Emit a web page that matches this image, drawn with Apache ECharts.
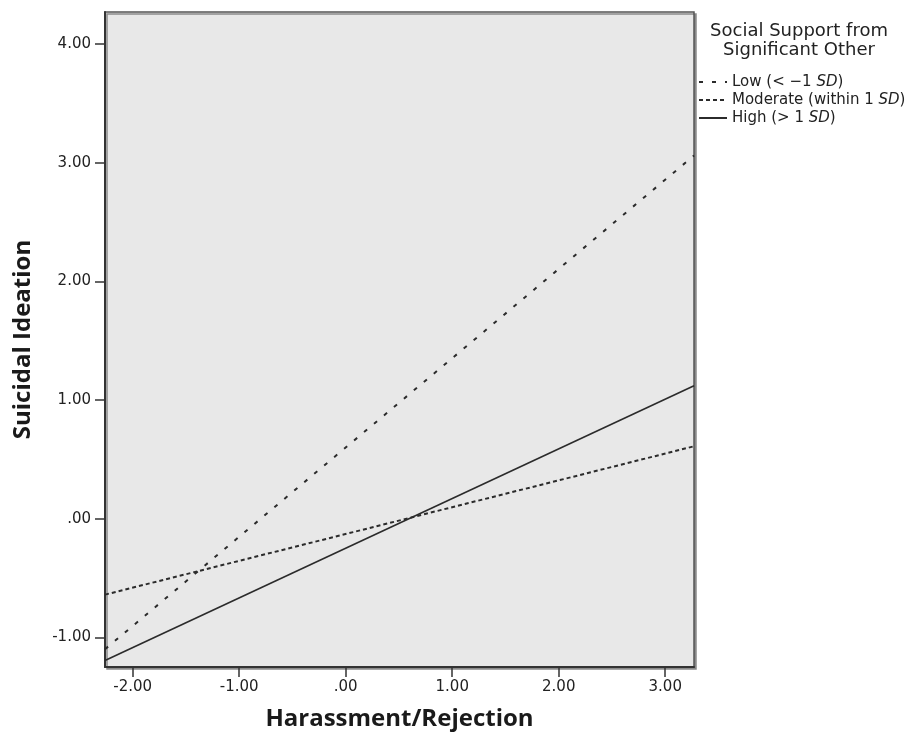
<!DOCTYPE html>
<html>
<head>
<meta charset="utf-8">
<title>Suicidal Ideation by Harassment/Rejection</title>
<script src="https://cdn.jsdelivr.net/npm/echarts@6/dist/echarts.min.js"></script>
<style>
  html, body { margin: 0; padding: 0; background: #fff; }
  #chart { width: 909px; height: 736px; }
</style>
</head>
<body>
<div id="chart"></div>
<script>
// x range of the fitted lines (edges of the plot)
const xEnds = [-2.26, 3.27];

// predicted suicidal ideation at each end
const lowValues = [-1.10, 3.06];
const moderateValues = [-0.64, 0.61];
const highValues = [-1.195, 1.12];

const seriesNames = ['Low', 'Moderate', 'High'];
const legendLabels = {
  Low: 'Low (< \u22121 {i|SD})',
  Moderate: 'Moderate (within 1 {i|SD})',
  High: 'High (> 1 {i|SD})'
};

const xTickValues = [-2, -1, 0, 1, 2, 3];
const xTickLabels = ['-2.00', '-1.00', '.00', '1.00', '2.00', '3.00'];
const yTickValues = [-1, 0, 1, 2, 3, 4];
const yTickLabels = ['-1.00', '.00', '1.00', '2.00', '3.00', '4.00'];

const toPoints = (values) => xEnds.map((x, i) => [x, values[i]]);

const chart = echarts.init(document.getElementById('chart'));

const lineColor = '#2b2b2b';
const labelFont = 'DejaVu Sans';
const titleFont = 'Open Sans';

const axisCommon = {
  type: 'value',
  nameLocation: 'middle',
  nameTextStyle: {
    fontFamily: titleFont,
    fontWeight: 'bold',
    fontSize: 24,
    color: '#1a1a1a'
  },
  axisLine: { show: true, onZero: false, lineStyle: { color: '#333', width: 2 } },
  axisTick: { show: true, inside: false, length: 10, lineStyle: { color: '#333', width: 1.5 } },
  splitLine: { show: false }
};

const option = {
  animation: false,
  backgroundColor: '#fff',
  color: [lineColor, lineColor, lineColor],
  title: {
    text: 'Social Support from\nSignificant Other',
    left: 799,
    top: 22,
    padding: 0,
    textAlign: 'center',
    textStyle: {
      fontFamily: labelFont,
      fontWeight: 'normal',
      fontSize: 18,
      lineHeight: 19,
      color: '#222'
    }
  },
  legend: {
    orient: 'vertical',
    left: 698,
    top: 73,
    padding: 0,
    itemWidth: 28,
    itemHeight: 10,
    itemGap: 0,
    data: seriesNames,
    itemStyle: { opacity: 0 },
    formatter: (name) => legendLabels[name],
    textStyle: {
      fontFamily: labelFont,
      fontSize: 15,
      lineHeight: 18,
      color: '#222',
      rich: {
        i: { fontFamily: labelFont, fontSize: 15, lineHeight: 18, fontStyle: 'italic', color: '#222' }
      }
    }
  },
  grid: {
    left: 105,
    right: 215,
    top: 12,
    bottom: 68,
    show: true,
    backgroundColor: '#e8e8e8',
    borderColor: '#555',
    borderWidth: 1.5,
    shadowColor: '#8a8a8a',
    shadowBlur: 0,
    shadowOffsetX: 2,
    shadowOffsetY: 2
  },
  xAxis: Object.assign({}, axisCommon, {
    min: xEnds[0],
    max: xEnds[1],
    name: 'Harassment/Rejection',
    nameGap: 40,
    axisTick: Object.assign({}, axisCommon.axisTick, { customValues: xTickValues }),
    axisLabel: {
      customValues: xTickValues,
      margin: 13,
      fontFamily: labelFont,
      fontSize: 15,
      color: '#222',
      formatter: (v) => xTickLabels[xTickValues.indexOf(v)]
    }
  }),
  yAxis: Object.assign({}, axisCommon, {
    min: -1.25,
    max: 4.27,
    name: 'Suicidal Ideation',
    nameGap: 70,
    axisTick: Object.assign({}, axisCommon.axisTick, { customValues: yTickValues }),
    axisLabel: {
      customValues: yTickValues,
      margin: 14,
      fontFamily: labelFont,
      fontSize: 15,
      color: '#222',
      formatter: (v) => yTickLabels[yTickValues.indexOf(v)]
    }
  }),
  series: [
    {
      name: 'Low',
      type: 'line',
      data: toPoints(lowValues),
      symbol: 'none',
      silent: true,
      lineStyle: { color: lineColor, width: 2, type: [4, 9] }
    },
    {
      name: 'Moderate',
      type: 'line',
      data: toPoints(moderateValues),
      symbol: 'none',
      silent: true,
      lineStyle: { color: lineColor, width: 2, type: [4, 3] }
    },
    {
      name: 'High',
      type: 'line',
      data: toPoints(highValues),
      symbol: 'none',
      silent: true,
      lineStyle: { color: lineColor, width: 1.6, type: 'solid' }
    }
  ]
};

chart.setOption(option);
</script>
</body>
</html>
